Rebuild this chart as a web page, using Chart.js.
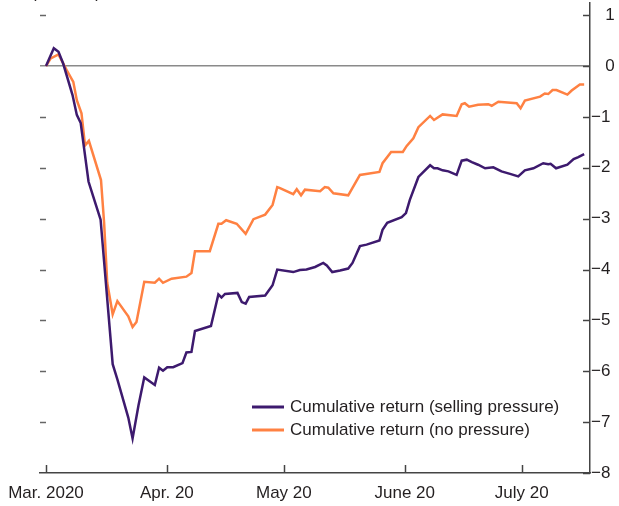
<!DOCTYPE html>
<html>
<head>
<meta charset="utf-8">
<script src="https://cdn.jsdelivr.net/npm/chart.js@4.4.1/dist/chart.umd.min.js"></script>
<style>
    html, body { margin: 0; padding: 0; background: #fff; }
    canvas { display: block; }
</style>
</head>
<body>
<canvas id="returnsChart" width="619" height="506"></canvas>
<script>
// Days counted from 1 March 2020
const tickDays = [0, 31, 61, 92, 122];
const tickLabels = ['Mar. 2020', 'Apr. 20', 'May 20', 'June 20', 'July 20'];
const yTicks = [1, 0, -1, -2, -3, -4, -5, -6, -7, -8];

const sellingDays = [0, 2, 3.2, 4.4, 6.8, 7.9, 8.9, 10.9, 12.1, 14, 17.1, 18.3, 21.1, 22.2, 23.7, 25.2, 27.9, 29, 30, 31.1,
    32.6, 35, 36, 37.3, 38.2, 42.3, 44.2, 45, 45.9, 49.1, 50.2, 51.2, 52.1, 56.2, 58.1, 59.3, 63.4, 65.1, 66.8, 69,
    71.1, 72, 73.4, 75.4, 77.5, 78.6, 80.5, 82.2, 85.5, 86.3, 87.5, 91.2, 92.3, 93.3, 95.5, 98.5, 99.5, 100.4, 101.7, 103.2,
    105.3, 106.6, 107.9, 109.2, 110.8, 112.6, 114.7, 116.8, 119, 121.1, 122.8, 125, 127.5, 128.8, 129.4, 130.8, 133.7, 135.3, 136.5, 138];
const sellingValues = [0, 0.35, 0.28, 0.05, -0.57, -0.96, -1.12, -2.27, -2.56, -3.02, -5.86, -6.16, -6.91, -7.32, -6.68, -6.12, -6.27, -5.93, -5.99, -5.92,
    -5.92, -5.84, -5.63, -5.62, -5.21, -5.11, -4.49, -4.55, -4.48, -4.46, -4.64, -4.67, -4.54, -4.51, -4.31, -4.00, -4.05, -4.01, -4.00, -3.95,
    -3.87, -3.92, -4.05, -4.02, -3.98, -3.87, -3.54, -3.51, -3.43, -3.22, -3.08, -2.97, -2.89, -2.63, -2.18, -1.95, -2.01, -2.01, -2.05, -2.07,
    -2.14, -1.86, -1.84, -1.89, -1.94, -2.01, -1.99, -2.07, -2.12, -2.17, -2.05, -2.01, -1.91, -1.93, -1.92, -2.01, -1.94, -1.83, -1.79, -1.73];

const noPressureDays = [0, 1.2, 3.2, 5.3, 7, 7.9, 9.1, 10, 11, 14.1, 14.9, 15.7, 17.1, 18.3, 21.1, 22.2, 23.2, 25.2, 27.9, 29,
    30, 32.2, 36, 37.3, 38.2, 42, 44.2, 45, 46.2, 48.9, 51.2, 53.2, 56.2, 58.1, 59.3, 60, 63.4, 64.3, 65.4, 66.4,
    70.3, 71.5, 72.4, 73.7, 77.5, 80.5, 85.5, 86.3, 88.5, 91.5, 92.5, 94.2, 95.5, 98.5, 99.5, 101.7, 105.3, 106.6, 107.4, 108.5,
    110.8, 113.4, 114.3, 116, 120.7, 121.7, 122.8, 126.7, 127.9, 128.8, 129.9, 130.9, 133.7, 134.8, 136.9, 138];
const noPressureValues = [0, 0.15, 0.23, -0.08, -0.31, -0.67, -0.93, -1.56, -1.47, -2.24, -3.08, -4.26, -4.88, -4.62, -4.92, -5.13, -5.03, -4.24, -4.26, -4.18,
    -4.26, -4.18, -4.14, -4.07, -3.64, -3.64, -3.10, -3.10, -3.03, -3.10, -3.30, -3.01, -2.92, -2.73, -2.38, -2.40, -2.52, -2.42, -2.54, -2.43,
    -2.46, -2.38, -2.39, -2.50, -2.54, -2.14, -2.08, -1.91, -1.69, -1.69, -1.57, -1.42, -1.20, -0.98, -1.06, -0.95, -0.98, -0.75, -0.73, -0.80,
    -0.76, -0.75, -0.78, -0.70, -0.73, -0.83, -0.68, -0.60, -0.54, -0.55, -0.47, -0.47, -0.56, -0.48, -0.36, -0.36];

// no condensed face installed, so a smaller regular sans keeps the widths
const FONT = "'Liberation Sans', Arial, sans-serif";
const FONT_SIZE = 17;
const TEXT_COLOR = '#231f20';

function toPoints(xs, ys) {
    return xs.map((x, i) => ({ x: x, y: ys[i] }));
}

// ticks marks, the cut-off unit label and the legend
const decorations = {
    id: 'decorations',
    afterDraw(chart) {
        const ctx = chart.ctx;
        const area = chart.chartArea;
        const xs = chart.scales.x;
        const ys = chart.scales.y;
        ctx.save();

        // right axis ticks point inward
        ctx.strokeStyle = '#444';
        ctx.lineWidth = 1.5;
        yTicks.forEach(v => {
            const py = Math.round(ys.getPixelForValue(v)) + 0.5;
            ctx.beginPath();
            ctx.moveTo(area.right - 7, py);
            ctx.lineTo(area.right, py);
            ctx.stroke();
        });

        // short marks on the left edge
        ctx.strokeStyle = '#666';
        yTicks.filter(v => v !== 0 && v !== -8).forEach(v => {
            const py = Math.round(ys.getPixelForValue(v)) + 0.5;
            ctx.beginPath();
            ctx.moveTo(area.left, py);
            ctx.lineTo(area.left + 6, py);
            ctx.stroke();
        });

        // x ticks point upward
        ctx.strokeStyle = '#444';
        tickDays.forEach(d => {
            const px = Math.round(xs.getPixelForValue(d)) + 0.5;
            ctx.beginPath();
            ctx.moveTo(px, area.bottom);
            ctx.lineTo(px, area.bottom - 8);
            ctx.stroke();
        });

        // unit label, mostly cut off at the top
        ctx.fillStyle = TEXT_COLOR;
        ctx.font = FONT_SIZE + 'px ' + FONT;
        ctx.textBaseline = 'alphabetic';
        ctx.textAlign = 'left';
        ctx.fillText('(Percent)', 31, -2);

        // legend
        chart.data.datasets.forEach((ds, i) => {
            const ly = 407 + i * 23;
            ctx.strokeStyle = ds.borderColor;
            ctx.lineWidth = 3;
            ctx.beginPath();
            ctx.moveTo(252, ly);
            ctx.lineTo(284, ly);
            ctx.stroke();
            ctx.fillStyle = TEXT_COLOR;
            ctx.textBaseline = 'middle';
            ctx.fillText(ds.label, 290, ly);
        });

        ctx.restore();
    }
};

document.addEventListener('DOMContentLoaded', function() {
    const ctx = document.getElementById('returnsChart').getContext('2d');

    new Chart(ctx, {
        type: 'line',
        data: {
            datasets: [
                {
                    label: 'Cumulative return (selling pressure)',
                    data: toPoints(sellingDays, sellingValues),
                    borderColor: '#3d1a6e',
                    borderWidth: 2.5,
                    pointRadius: 0,
                    tension: 0
                },
                {
                    label: 'Cumulative return (no pressure)',
                    data: toPoints(noPressureDays, noPressureValues),
                    borderColor: '#ff8142',
                    borderWidth: 2.5,
                    pointRadius: 0,
                    tension: 0
                }
            ]
        },
        options: {
            responsive: false,
            animation: false,
            devicePixelRatio: 1,
            layout: { padding: { left: 40, top: 3, right: 0, bottom: 0 } },
            font: { family: FONT, size: FONT_SIZE },
            plugins: {
                legend: { display: false },
                tooltip: { enabled: false }
            },
            scales: {
                x: {
                    type: 'linear',
                    min: -1.54,
                    max: 139.5,
                    afterBuildTicks: scale => {
                        scale.ticks = tickDays.map(d => ({ value: d }));
                    },
                    afterFit: scale => {
                        scale.height = 33;
                        scale.paddingLeft = 0;
                        scale.paddingRight = 0;
                    },
                    ticks: {
                        autoSkip: false,
                        maxRotation: 0,
                        padding: 10,
                        color: TEXT_COLOR,
                        font: { family: FONT, size: FONT_SIZE },
                        callback: value => tickLabels[tickDays.indexOf(value)]
                    },
                    grid: { display: true, drawOnChartArea: false, drawTicks: false, tickLength: 0 },
                    border: { display: true, color: '#444', width: 1.5 }
                },
                y: {
                    position: 'right',
                    min: -8,
                    max: 1.24,
                    afterBuildTicks: scale => {
                        scale.ticks = yTicks.map(v => ({ value: v }));
                    },
                    afterFit: scale => {
                        scale.width = 29;
                        scale.paddingTop = 0;
                        scale.paddingBottom = 0;
                    },
                    ticks: {
                        padding: 1,
                        color: TEXT_COLOR,
                        font: { family: FONT, size: FONT_SIZE },
                        callback: value => value < 0 ? '\u2212' + Math.abs(value) : '\u2007 ' + value
                    },
                    grid: {
                        drawTicks: false,
                        tickLength: 0,
                        color: c => c.tick && c.tick.value === 0 ? '#8a8a8a' : 'rgba(0,0,0,0)',
                        lineWidth: 1.5
                    },
                    border: { display: true, color: '#444', width: 1.5 }
                }
            }
        },
        plugins: [decorations]
    });
});
</script>
</body>
</html>
